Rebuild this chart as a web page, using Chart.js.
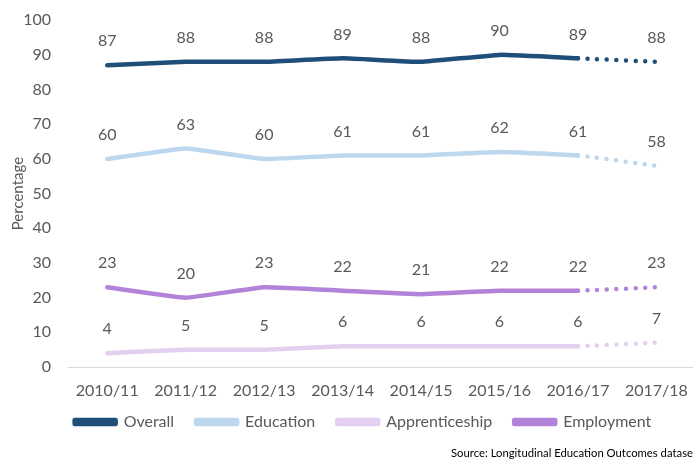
<!DOCTYPE html>
<html>
<head>
<meta charset="utf-8">
<script src="https://cdn.jsdelivr.net/npm/chart.js@4.4.0/dist/chart.umd.min.js"></script>
<style>
  html, body { margin: 0; padding: 0; background: #fff; }
  #wrap { width: 693px; height: 459px; position: relative; overflow: hidden; }
</style>
</head>
<body>
<div id="wrap"><canvas id="chart" width="702" height="459"></canvas></div>
<script>
const years = ["2010/11", "2011/12", "2012/13", "2013/14", "2014/15", "2015/16", "2016/17", "2017/18"];
const overall = [87, 88, 88, 89, 88, 90, 89, 88];
const education = [60, 63, 60, 61, 61, 62, 61, 58];
const apprenticeship = [4, 5, 5, 6, 6, 6, 6, 7];
const employment = [23, 20, 23, 22, 21, 22, 22, 23];
const sourceText = "Source: Longitudinal Education Outcomes dataset";

const FONT = "Lato, 'Open Sans', sans-serif";
const GREY = "#595959";

// last step (2016/17 -> 2017/18) is drawn dotted
const dotted = ctx => ctx.p1DataIndex === years.length - 1 ? [0, 9.6] : undefined;

function series(label, data, color) {
    return {
        label: label,
        data: data,
        borderColor: color,
        backgroundColor: color,
        borderWidth: 4.5,
        borderCapStyle: "round",
        borderJoinStyle: "round",
        pointRadius: 0,
        pointHoverRadius: 0,
        tension: 0.1,
        segment: { borderDash: dotted }
    };
}

const valueLabels = {
    id: "valueLabels",
    afterDatasetsDraw(chart) {
        const c = chart.ctx;
        c.save();
        c.font = "16px " + FONT;
        c.fillStyle = GREY;
        c.textAlign = "center";
        c.textBaseline = "middle";
        chart.data.datasets.forEach((ds, i) => {
            chart.getDatasetMeta(i).data.forEach((pt, j) => {
                c.fillText(ds.data[j], pt.x, pt.y - 24);
            });
        });
        c.restore();
    }
};

// small layout tweaks: legend sits a bit right of centre, and the
// category labels may run a few px below the axis box without clipping
const layoutTweaks = {
    id: "layoutTweaks",
    afterLayout(chart) {
        chart.legend.left += 13;
        chart.legend.right += 13;
        chart.scales.x.bottom += 10;
    }
};

const sourceNote = {
    id: "sourceNote",
    afterDraw(chart) {
        const c = chart.ctx;
        c.save();
        c.font = "11.3px " + FONT;
        c.fillStyle = "#000";
        c.textAlign = "left";
        c.textBaseline = "middle";
        c.fillText(sourceText, 451, 453);
        c.restore();
    }
};

new Chart(document.getElementById("chart"), {
    type: "line",
    data: {
        labels: years,
        datasets: [
            series("Overall", overall, "#1F4E79"),
            series("Education", education, "#BDD7EE"),
            series("Apprenticeship", apprenticeship, "#E3D0F1"),
            series("Employment", employment, "#B383D9")
        ]
    },
    options: {
        responsive: false,
        animation: false,
        layout: { padding: { top: 6, right: 2, bottom: 19, left: 0 } },
        plugins: {
            legend: {
                position: "bottom",
                labels: {
                    boxWidth: 41,
                    boxHeight: 4,
                    padding: 22,
                    color: GREY,
                    font: { family: FONT, size: 16 }
                }
            },
            tooltip: { enabled: false }
        },
        scales: {
            x: {
                offset: true,
                grid: { display: false, drawTicks: false },
                border: { display: true, color: "#D9D9D9", width: 1 },
                ticks: { color: GREY, padding: 14, font: { family: FONT, size: 16 }, maxRotation: 0 },
                afterFit: s => { s.height = 25; }
            },
            y: {
                min: 0,
                max: 100,
                grid: { display: false, drawTicks: false },
                border: { display: false },
                // small lineHeight keeps the top overhang tight so 100 sits near the top edge
                ticks: { stepSize: 10, color: GREY, padding: 17, font: { family: FONT, size: 16, lineHeight: 0.4 } },
                title: { display: true, text: "Percentage", color: GREY, padding: { top: 9, bottom: 0 }, font: { family: FONT, size: 15 } },
                afterFit: s => { s.width = 68; }
            }
        }
    },
    plugins: [valueLabels, layoutTweaks, sourceNote]
});
</script>
</body>
</html>
